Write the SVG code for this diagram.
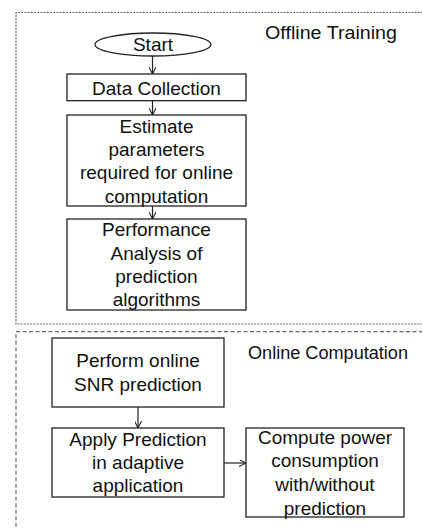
<svg xmlns="http://www.w3.org/2000/svg" width="422" height="529" viewBox="0 0 422 529">
<style>
.bx{fill:#fff;stroke:#222;stroke-width:1.3}
.t{font-family:"Liberation Sans",Arial,sans-serif;font-size:19px;fill:#111;text-anchor:middle}
.lbl{font-family:"Liberation Sans",Arial,sans-serif;font-size:17.5px;fill:#111}
.grp1{fill:none;stroke:#666;stroke-width:1.2;stroke-dasharray:2 1.2}
.grp2{fill:none;stroke:#666;stroke-width:1.2;stroke-dasharray:4 2.5}
.c{fill:none;stroke:#222;stroke-width:1.2}
</style>
<defs>
<marker id="ah" viewBox="0 0 10 10" refX="10" refY="5" markerWidth="7" markerHeight="7" markerUnits="userSpaceOnUse" orient="auto">
<path d="M0,0 L10,5 L0,10" fill="none" stroke="#222" stroke-width="1.5"/>
</marker>
</defs>
<g id="offline-group">
<polyline class="grp1" points="423,12.5 16,12.5 16,324 423,324"/>
<text class="lbl" x="265" y="39.3" textLength="132" lengthAdjust="spacingAndGlyphs">Offline Training</text>
</g>
<g id="online-group">
<polyline class="grp2" points="423,331.7 16,331.7 16,530"/>
<text class="lbl" x="248" y="359.3" textLength="160" lengthAdjust="spacingAndGlyphs">Online Computation</text>
</g>
<g id="connectors">
<line class="c" x1="152.5" y1="56" x2="152.5" y2="74" marker-end="url(#ah)"/>
<line class="c" x1="152.5" y1="100.7" x2="152.5" y2="115" marker-end="url(#ah)"/>
<line class="c" x1="152.5" y1="206" x2="152.5" y2="219" marker-end="url(#ah)"/>
<line class="c" x1="138" y1="407" x2="138" y2="428" marker-end="url(#ah)"/>
<line class="c" x1="224" y1="463" x2="246" y2="463" marker-end="url(#ah)"/>
</g>
<g id="start">
<ellipse class="bx" cx="153" cy="44.5" rx="58" ry="11.5"/>
<text class="t" x="153" y="50.8">Start</text>
</g>
<g id="data-collection">
<rect class="bx" x="67" y="74" width="179" height="26.7"/>
<text class="t" x="156.5" y="95">Data Collection</text>
</g>
<g id="estimate">
<rect class="bx" x="67" y="115" width="179" height="91"/>
<text class="t" x="156.5" y="132.7">Estimate</text>
<text class="t" x="156.5" y="156">parameters</text>
<text class="t" x="156.5" y="179.3">required for online</text>
<text class="t" x="156.5" y="202.6">computation</text>
</g>
<g id="performance">
<rect class="bx" x="67" y="219" width="179" height="91"/>
<text class="t" x="156.5" y="236">Performance</text>
<text class="t" x="156.5" y="259.5">Analysis of</text>
<text class="t" x="156.5" y="283">prediction</text>
<text class="t" x="156.5" y="306">algorithms</text>
</g>
<g id="perform-online">
<rect class="bx" x="52" y="338" width="172" height="69"/>
<text class="t" x="138" y="367">Perform online</text>
<text class="t" x="138" y="390.7">SNR prediction</text>
</g>
<g id="apply-prediction">
<rect class="bx" x="52" y="428" width="172" height="69"/>
<text class="t" x="138" y="445.7">Apply Prediction</text>
<text class="t" x="138" y="469">in adaptive</text>
<text class="t" x="138" y="492.3">application</text>
</g>
<g id="compute-power">
<rect class="bx" x="246" y="428" width="158" height="89"/>
<text class="t" x="325" y="444">Compute power</text>
<text class="t" x="325" y="467.3">consumption</text>
<text class="t" x="325" y="490.7">with/without</text>
<text class="t" x="325" y="515">prediction</text>
</g>
</svg>
